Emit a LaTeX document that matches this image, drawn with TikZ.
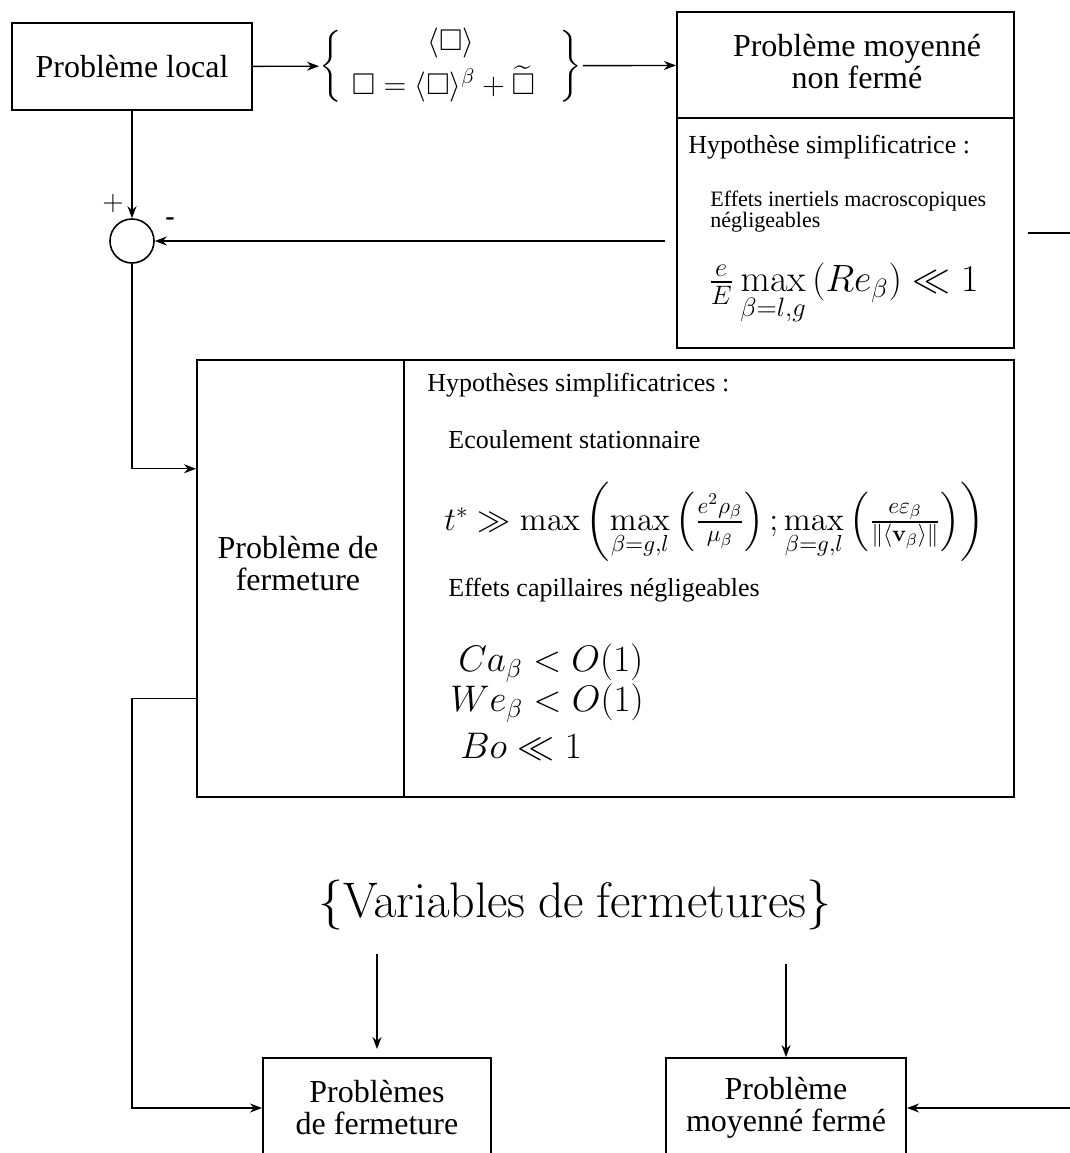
\RequirePackage{fix-cm}
\documentclass[tikz,border=0pt]{standalone}
\usepackage{amsmath}
\usepackage{amssymb}
\usepackage[no-math]{fontspec}
\setmainfont{Liberation Serif}
\usepackage{tikz}
\usetikzlibrary{arrows.meta}
\usetikzlibrary{calc}

\begin{document}
\begin{tikzpicture}[x=0.5pt,y=-0.5pt,
        >={Stealth[length=6pt,width=4.5pt]},
        lien/.style={line width=0.7pt},
        bloc/.style={draw, line width=1pt, inner sep=0pt},
        texte/.style={inner sep=0pt, align=center, font=\fontsize{16}{16}\selectfont},
        hypo/.style={inner sep=0pt, anchor=west, align=left, font=\fontsize{13}{13}\selectfont},
        somme/.style={circle, draw, line width=0.8pt, minimum size=22pt, inner sep=0pt},
    ]
    \clip (0,0) rectangle (1070,1153);
    % blocs du haut
    \node[bloc, minimum width=120pt, minimum height=43.5pt, font=\fontsize{16}{16}\selectfont] (local) at (132,66.5) {Problème local};
    \node[inner sep=0pt, anchor=west, font=\fontsize{15}{15}\selectfont] (decomp) at (319,66)
        {$\left\{\begin{array}{c}\langle\square\rangle\\[3pt] \square=\langle\square\rangle^{\beta}+\widetilde{\square}\enspace\end{array}\right\}$};
    \node[bloc, minimum width=168.5pt, minimum height=53pt] (pmnf) at (845.5,65) {};
    \node[texte] (pmnftxt) at (857,62) {Problème moyenné\\non fermé};
    \node[bloc, minimum width=168.5pt, minimum height=115pt] (hyp1) at (845.5,233) {};
    \node[hypo] (hyp1a) at (688,147) {Hypothèse simplificatrice :};
    \node[hypo, font=\fontsize{11}{10.5}\selectfont] (hyp1b) at (710,212) {Effets inertiels macroscopiques\\négligeables};
    \node[hypo, font=\fontsize{19}{19}\selectfont] (hyp1c) at (708,294) {$\frac{e}{E}\max\limits_{\beta=l,g}\left(Re_{\beta}\right)\ll 1$};
    % comparateur
    \node[somme] (sum) at (132,241) {};
    \node[inner sep=0pt, font=\fontsize{14}{14}\selectfont] (plus) at (113,203) {$+$};
    \node[inner sep=0pt, font=\bfseries\fontsize{14}{14}\selectfont] (moins) at (170,222) {-};
    % probleme de fermeture
    \node[bloc, minimum width=103.5pt, minimum height=218.5pt] (ferm) at (300.5,578.5) {};
    \node[texte] (fermtxt) at (298,564) {Problème de\\fermeture};
    \node[bloc, minimum width=305pt, minimum height=218.5pt] (hyp2) at (709,578.5) {};
    \node[hypo] (hyp2a) at (427,385) {Hypothèses simplificatrices :};
    \node[hypo] (hyp2b) at (448,440) {Ecoulement stationnaire};
    \node[hypo, font=\fontsize{16.5}{16.5}\selectfont] (hyp2c) at (444,522)
        {$t^{*}\gg\max\left(\max\limits_{\beta=g,l}\left(\frac{e^{2}\rho_{\beta}}{\mu_{\beta}}\right);\max\limits_{\beta=g,l}\left(\frac{e\varepsilon_{\beta}}{\|\langle\mathbf{v}_{\beta}\rangle\|}\right)\right)$};
    \node[hypo] (hyp2d) at (448,590) {Effets capillaires négligeables};
    \node[hypo, font=\fontsize{18.5}{18.5}\selectfont] (ca) at (458,663) {$Ca_{\beta}<O(1)$};
    \node[hypo, font=\fontsize{18.5}{18.5}\selectfont] (we) at (450,703) {$We_{\beta}<O(1)$};
    \node[hypo, font=\fontsize{18.5}{18.5}\selectfont] (bo) at (460,747) {$Bo\ll 1$};
    % variables et blocs du bas
    \node[inner sep=0pt, font=\fontsize{25}{25}\selectfont] (vars) at (575,905) {$\{\mathrm{Variables\ de\ fermetures}\}$};
    \node[bloc, texte, minimum width=114pt, minimum height=50pt] (pbf) at (377,1108) {Problèmes\\de fermeture};
    \node[bloc, texte, minimum width=120pt, minimum height=50pt] (pmf) at (786,1108) {Problème\\moyenné fermé};
    \coordinate (retour) at (665,241);
    \coordinate (bord) at (1110,233);
    % liaisons
    \draw[lien,->] (local) -- (decomp);
    \draw[lien,->] (decomp) -- (pmnf);
    \draw[lien,->] (local) -- (sum);
    \draw[lien,->] (retour) -- (sum);
    \draw[lien,->] (sum) |- ($(ferm.north west)!0.25!(ferm.south west)$);
    \draw[lien,->] ($(ferm.north west)!0.773!(ferm.south west)$) -| (sum.south |- pbf.west) -- (pbf);
    \draw[lien,->,shorten <=12pt,shorten >=4pt] (vars.south -| pbf.north) -- (pbf.north);
    \draw[lien,->,shorten <=17pt] (vars.south -| pmf.north) -- (pmf.north);
    \draw[lien,->,shorten <=6.5pt] (hyp1.east) -- (bord) |- (pmf.east);
\end{tikzpicture}
\end{document}
